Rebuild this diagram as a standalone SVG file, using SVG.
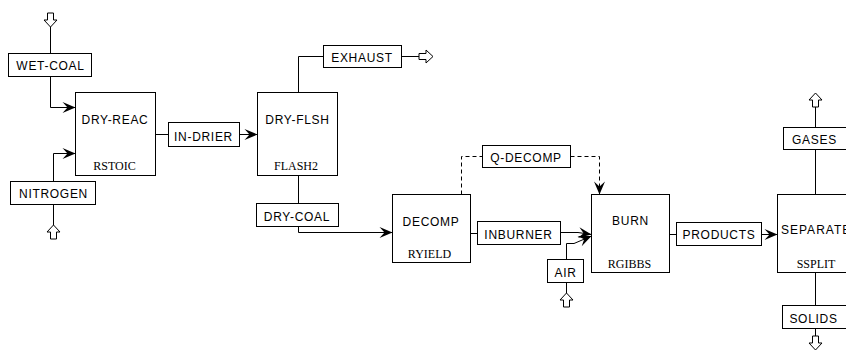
<svg xmlns="http://www.w3.org/2000/svg" xmlns:xlink="http://www.w3.org/1999/xlink" width="846" height="350" viewBox="0 0 846 350">
<style>
.blk{fill:#fff;stroke:#000;stroke-width:1}
.lbl{fill:#fff;stroke:#000;stroke-width:1}
.t{font-family:"Liberation Sans",Arial,sans-serif;font-size:12px;letter-spacing:0.7px;fill:#000;text-anchor:middle}
.st{font-family:"Liberation Serif","Times New Roman",serif;font-size:12px;fill:#000;text-anchor:middle}
.c{fill:none;stroke:#000;stroke-width:1}
.d{stroke-dasharray:4 3}
.ha{fill:#fff;stroke:#000;stroke-width:1}
</style>
<defs>
<marker id="arr" viewBox="-14 -7 15 14" refX="0" refY="0" markerWidth="15" markerHeight="14" markerUnits="userSpaceOnUse" orient="auto">
<path d="M0,0 L-13,-5.5 L-8,0 L-13,5.5 Z" fill="#000"/>
</marker>
<path id="hollow" d="M-3,0 H3 V7 H6.5 L0,14 L-6.5,7 H-3 Z"/>
</defs>
<rect width="846" height="350" fill="#fff"/>

<g id="connectors">
<path class="c" d="M50.5,27 V53.5"/>
<path class="c" d="M50.5,76.5 V107.5 H75.5" marker-end="url(#arr)"/>
<path class="c" d="M53.5,181.5 V153.5 H75.5" marker-end="url(#arr)"/>
<path class="c" d="M53.5,204.5 V225"/>
<path class="c" d="M155.5,134.5 H168.5"/>
<path class="c" d="M239.5,134.5 H257.5" marker-end="url(#arr)"/>
<path class="c" d="M298.5,92.5 V56.5 H323.5"/>
<path class="c" d="M401.5,56.5 H419"/>
<path class="c" d="M298.5,175.5 V203.5"/>
<path class="c" d="M298.5,226.5 V232.5 H392.5" marker-end="url(#arr)"/>
<path class="c" d="M470.5,233.5 H477.5"/>
<path class="c" d="M560.5,232.5 H578 L591.5,234.5" marker-end="url(#arr)"/>
<path class="c" d="M566.5,259.5 V243.5 H574 L591.5,236" marker-end="url(#arr)"/>
<path class="c" d="M566.5,282.5 V293"/>
<path class="c d" d="M461.5,194.5 V156.5 H482.5"/>
<path class="c d" d="M570.5,156.5 H599.5 V194.5" marker-end="url(#arr)"/>
<path class="c" d="M669.5,234.5 H676.5"/>
<path class="c" d="M761.5,234.5 H777.5" marker-end="url(#arr)"/>
<path class="c" d="M815.5,194.5 V149.5"/>
<path class="c" d="M815.5,127.5 V107"/>
<path class="c" d="M815.5,272.5 V305.5"/>
<path class="c" d="M815.5,328.5 V336"/>
<use xlink:href="#hollow" class="ha" transform="translate(50.5,13)"/>
<use xlink:href="#hollow" class="ha" transform="translate(53.5,239) rotate(180)"/>
<use xlink:href="#hollow" class="ha" transform="translate(419,56.5) rotate(-90)"/>
<use xlink:href="#hollow" class="ha" transform="translate(566.5,307) rotate(180)"/>
<use xlink:href="#hollow" class="ha" transform="translate(815.5,107) rotate(180)"/>
<use xlink:href="#hollow" class="ha" transform="translate(815.5,336)"/>
</g>

<g id="DRY-REAC">
<rect class="blk" x="75.5" y="92.5" width="80" height="83"/>
<text class="t" x="115" y="124">DRY-REAC</text>
<text class="st" x="114.5" y="170">RSTOIC</text>
</g>
<g id="DRY-FLSH">
<rect class="blk" x="257.5" y="92.5" width="80" height="83"/>
<text class="t" x="297.5" y="124">DRY-FLSH</text>
<text class="st" x="296" y="170">FLASH2</text>
</g>
<g id="DECOMP">
<rect class="blk" x="392.5" y="194.5" width="78" height="68"/>
<text class="t" x="431" y="225.5">DECOMP</text>
<text class="st" x="429.5" y="258">RYIELD</text>
</g>
<g id="BURN">
<rect class="blk" x="591.5" y="194.5" width="78" height="78"/>
<text class="t" x="630.5" y="225">BURN</text>
<text class="st" x="629.5" y="267.5">RGIBBS</text>
</g>
<g id="SEPARATE">
<rect class="blk" x="777.5" y="194.5" width="80" height="78"/>
<text class="t" x="781" y="234" style="text-anchor:start;letter-spacing:1px">SEPARATE</text>
<text class="st" x="816" y="268">SSPLIT</text>
</g>

<g id="WET-COAL">
<rect class="lbl" x="8.5" y="53.5" width="83" height="23"/>
<text class="t" x="50.5" y="70">WET-COAL</text>
</g>
<g id="NITROGEN">
<rect class="lbl" x="10.5" y="181.5" width="85" height="23"/>
<text class="t" x="53.5" y="197.5">NITROGEN</text>
</g>
<g id="IN-DRIER">
<rect class="lbl" x="168.5" y="122.5" width="71" height="24"/>
<text class="t" x="203.5" y="140.5">IN-DRIER</text>
</g>
<g id="EXHAUST">
<rect class="lbl" x="323.5" y="45.5" width="78" height="22"/>
<text class="t" x="362" y="62">EXHAUST</text>
</g>
<g id="DRY-COAL">
<rect class="lbl" x="256.5" y="203.5" width="82" height="23"/>
<text class="t" x="297" y="221">DRY-COAL</text>
</g>
<g id="Q-DECOMP">
<rect class="lbl" x="482.5" y="145.5" width="88" height="22"/>
<text class="t" x="526" y="162">Q-DECOMP</text>
</g>
<g id="INBURNER">
<rect class="lbl" x="477.5" y="221.5" width="83" height="23"/>
<text class="t" x="518.5" y="239">INBURNER</text>
</g>
<g id="AIR">
<rect class="lbl" x="547.5" y="259.5" width="36" height="23"/>
<text class="t" x="565.5" y="277">AIR</text>
</g>
<g id="PRODUCTS">
<rect class="lbl" x="676.5" y="222.5" width="85" height="23"/>
<text class="t" x="719" y="238.5">PRODUCTS</text>
</g>
<g id="GASES">
<rect class="lbl" x="783.5" y="127.5" width="65" height="22"/>
<text class="t" x="814.5" y="144">GASES</text>
</g>
<g id="SOLIDS">
<rect class="lbl" x="782.5" y="305.5" width="66" height="23"/>
<text class="t" x="813.5" y="322.5">SOLIDS</text>
</g>
</svg>
